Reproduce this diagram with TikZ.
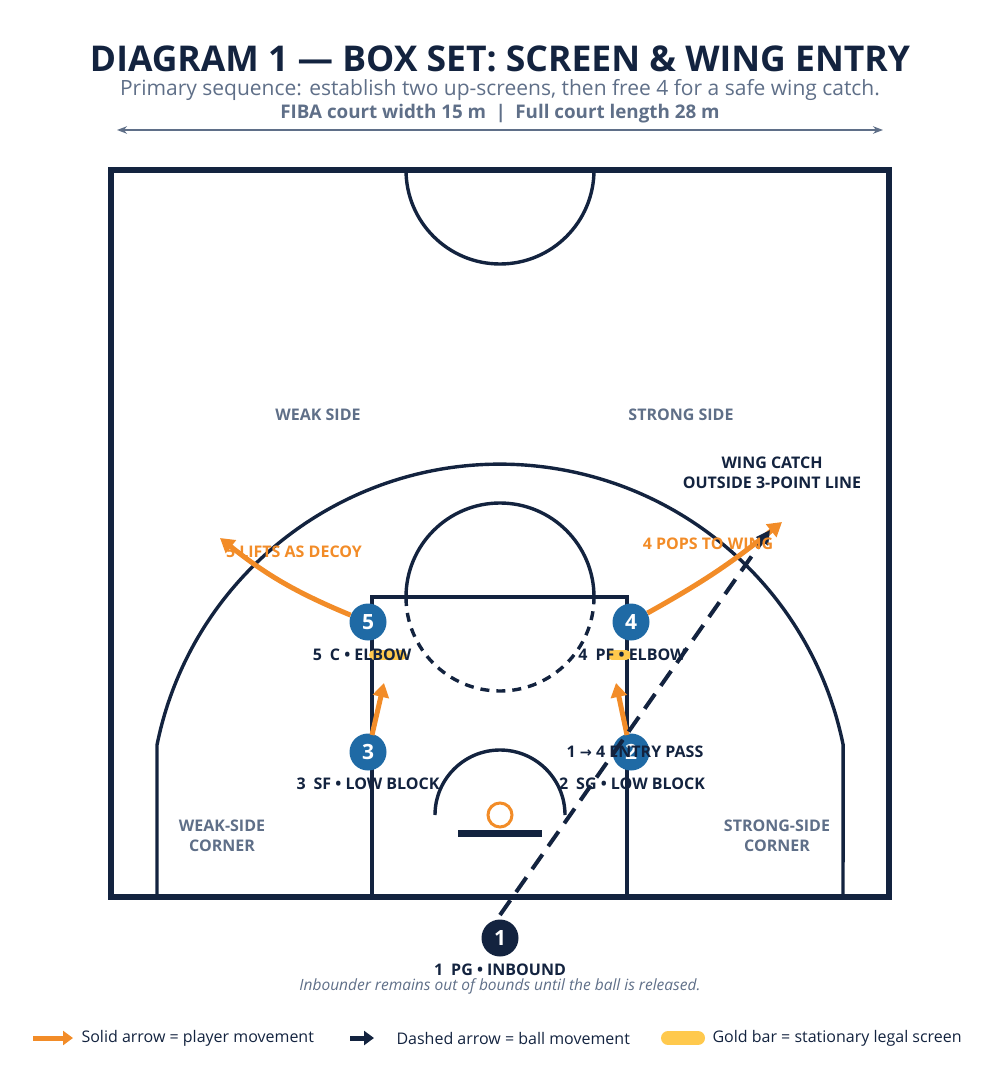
\documentclass[tikz,border=0pt]{standalone}
\usepackage{fontspec}
\setmainfont{Open Sans}
\newfontfamily\symfont{DejaVu Sans}[Scale=0.9]
\usetikzlibrary{arrows.meta}
\definecolor{navy}{HTML}{13233F}
\definecolor{slate}{HTML}{5F6F88}
\definecolor{blueP}{HTML}{1F6AA5}
\definecolor{orangeM}{HTML}{F28C28}
\definecolor{gold}{HTML}{FFC94D}
\newcommand{\fs}[1]{\fontsize{#1}{1.25\dimexpr#1pt\relax}\selectfont}
\tikzset{
  court/.style={navy, line width=3.4pt},
  player/.style={circle, fill=blueP, text=white, minimum size=37pt, inner sep=0pt, font=\fs{21}\bfseries},
  plabel/.style={text=navy, font=\fs{16}\bfseries, inner sep=0pt},
  zone/.style={text=slate, font=\fs{16}\bfseries, align=center, inner sep=0pt},
  move/.style={orangeM, line width=5pt, -{Triangle[length=14pt,width=16pt]}},
  pass/.style={navy, line width=4pt, dash pattern=on 18pt off 10pt, -{Triangle[length=14pt,width=14pt]}},
  screen/.style={gold, line width=10pt, line cap=round},
}
\begin{document}
\begin{tikzpicture}[x=1pt,y=-1pt]
\useasboundingbox (0,0) rectangle (1000,1083);
% title block
\node[text=navy, font=\fs{35.5}\bfseries, inner sep=0pt] (title) at (500,59) {DIAGRAM 1 — BOX SET: SCREEN \& WING ENTRY};
\node[text=slate, font=\fs{21}, inner sep=0pt] (sub) at (500,90) {Primary sequence: establish two up-screens, then free 4 for a safe wing catch.};
\node[text=slate, font=\fs{18.8}\bfseries, inner sep=0pt] (dims) at (500,114) {FIBA court width 15 m\enspace|\enspace Full court length 28 m};
\coordinate (dl) at (117,130);
\coordinate (dr) at (883,130);
\draw[slate, line width=1.8pt, {Stealth[length=10pt]}-{Stealth[length=10pt]}] (dl) -- (dr);
% court
\draw[court, line width=5.5pt] (111,170) rectangle (889,897);
\draw[court] (406,170) arc[start angle=180, end angle=0, radius=94];
\draw[court] (157,897) -- (157,745) arc[start angle=191.4, end angle=348.6, radius=350] -- (843,897);
\draw[court] (372,897) -- (372,597) -- (627,597) -- (627,897);
\draw[court] (406,597) arc[start angle=180, end angle=360, radius=94];
\draw[court, dash pattern=on 9pt off 7pt] (406,597) arc[start angle=180, end angle=0, radius=94];
\draw[court] (435,815) arc[start angle=180, end angle=360, radius=65];
\draw[navy, line width=7pt] (458,833) -- (542,833);
\draw[orangeM, line width=3pt] (500,815) circle[radius=12];
% zones
\node[zone] (weak) at (318,415) {WEAK SIDE};
\node[zone] (strong) at (681,415) {STRONG SIDE};
\node[zone] (wc) at (222,836) {WEAK-SIDE\\CORNER};
\node[zone] (sc) at (777,836) {STRONG-SIDE\\CORNER};
\node[text=navy, font=\fs{16}\bfseries, align=center] (catch) at (772,473) {WING CATCH\\OUTSIDE 3-POINT LINE};
% screens
\draw[screen] (374,655) -- (402,655);
\draw[screen] (612,655) -- (626,655);
% players
\node[player] (p5) at (368,622) {5};
\node[player] (p4) at (631,622) {4};
\node[player] (p3) at (368,752) {3};
\node[player] (p2) at (631,752) {2};
\node[player, fill=navy] (p1) at (500,938) {1};
\node[plabel] at (362,655) {5\enspace C • ELBOW};
\node[plabel] at (632,655) {4\enspace PF • ELBOW};
\node[plabel] at (368,784) {3\enspace SF • LOW BLOCK};
\node[plabel] at (632,784) {2\enspace SG • LOW BLOCK};
\node[plabel] at (500,970) {1\enspace PG • INBOUND};
\node[text=slate, font=\fs{15.5}\itshape] (note) at (500,986) {Inbounder remains out of bounds until the ball is released.};
% movement
\coordinate (t5) at (220,538);
\coordinate (t4) at (782,522);
\coordinate (t3) at (384,683);
\coordinate (t2) at (616,683);
\coordinate (tb) at (770,530);
\draw[move] (p5) to[bend left=8] (t5);
\draw[move] (p4) to[bend right=5] (t4);
\draw[move] (p3) ++(4,-17) -- (t3);
\draw[move] (p2) ++(-4,-17) -- (t2);
\draw[pass] (500,915) -- (tb);
\node[text=orangeM, font=\fs{16}\bfseries] (l5) at (294,552) {5 LIFTS AS DECOY};
\node[text=orangeM, font=\fs{16}\bfseries] (l4) at (708,544) {4 POPS TO WING};
\node[text=navy, font=\fs{16}\bfseries] (lp) at (635,752) {1 {\symfont\bfseries →} 4 ENTRY PASS};
% legend
\coordinate (a1) at (33,1038);
\coordinate (a2) at (73,1038);
\draw[orangeM, line width=5pt, -{Triangle[length=10pt,width=14pt]}] (a1) -- (a2);
\node[anchor=west, text=navy, font=\fs{16}] (lg1) at (78,1038) {Solid arrow = player movement};
\coordinate (b1) at (350,1038);
\coordinate (b2) at (374,1038);
\draw[navy, line width=5pt, -{Triangle[length=10pt,width=14pt]}] (b1) -- (b2);
\node[anchor=west, text=navy, font=\fs{16}] (lg2) at (393,1038) {Dashed arrow = ball movement};
\draw[screen, line width=14pt] (668,1038) -- (698,1038);
\node[anchor=west, text=navy, font=\fs{16}] (lg3) at (709,1038) {Gold bar = stationary legal screen};
\end{tikzpicture}
\end{document}
